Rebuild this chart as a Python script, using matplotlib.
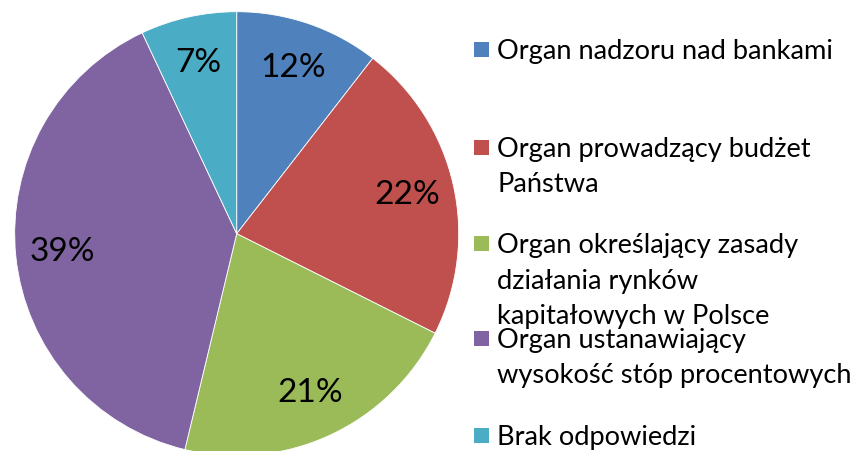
import matplotlib
matplotlib.use("Agg")
import matplotlib.pyplot as plt
from matplotlib.patches import Rectangle

plt.rcParams['font.family'] = ['Lato', 'DejaVu Sans']

# slice sizes, labels as printed on the chart
categories = [
    "Organ nadzoru nad bankami",
    "Organ prowadzący budżet\nPaństwa",
    "Organ określający zasady\ndziałania rynków\nkapitałowych w Polsce",
    "Organ ustanawiający\nwysokość stóp procentowych",
    "Brak odpowiedzi",
]
shares = [10.5, 21.9, 21.35, 39.25, 7.0]
pct_labels = ["12%", "22%", "21%", "39%", "7%"]
colors = ["#4F81BD", "#C0504D", "#9BBB59", "#8064A2", "#4BACC6"]

W, H = 851, 451
fig = plt.figure(figsize=(W / 100, H / 100), dpi=100)
fig.patch.set_facecolor("white")

# pie: centre (236.7, 233.7) px, radius 222 px
cx, cy, r = 236.7, 233.7, 222
ax = fig.add_axes([(cx - r) / W, (H - cy - r) / H, 2 * r / W, 2 * r / H])

it = iter(pct_labels)
wedges, texts, autotexts = ax.pie(
    shares, colors=colors, startangle=90, counterclock=False,
    autopct=lambda p: next(it), pctdistance=0.79,
    wedgeprops=dict(edgecolor="white", linewidth=0.6),
    textprops=dict(fontsize=24, color="black"),
)
ax.set_xlim(-1, 1)
ax.set_ylim(-1, 1)

# legend drawn by hand to keep the uneven spacing of the original
first_baseline = [59, 157, 253, 348, 445]
line_h = 35.5
sq = 15
for name, col, yb in zip(categories, colors, first_baseline):
    fig.patches.append(Rectangle((474 / W, (H - yb + 2) / H), sq / W, sq / H,
                                 transform=fig.transFigure, facecolor=col,
                                 edgecolor="none"))
    for k, line in enumerate(name.split("\n")):
        fig.text(497 / W, (H - yb - k * line_h) / H, line, fontsize=19.6,
                 ha="left", va="baseline", color="black")

fig.savefig("out.png", dpi=100, facecolor="white")
